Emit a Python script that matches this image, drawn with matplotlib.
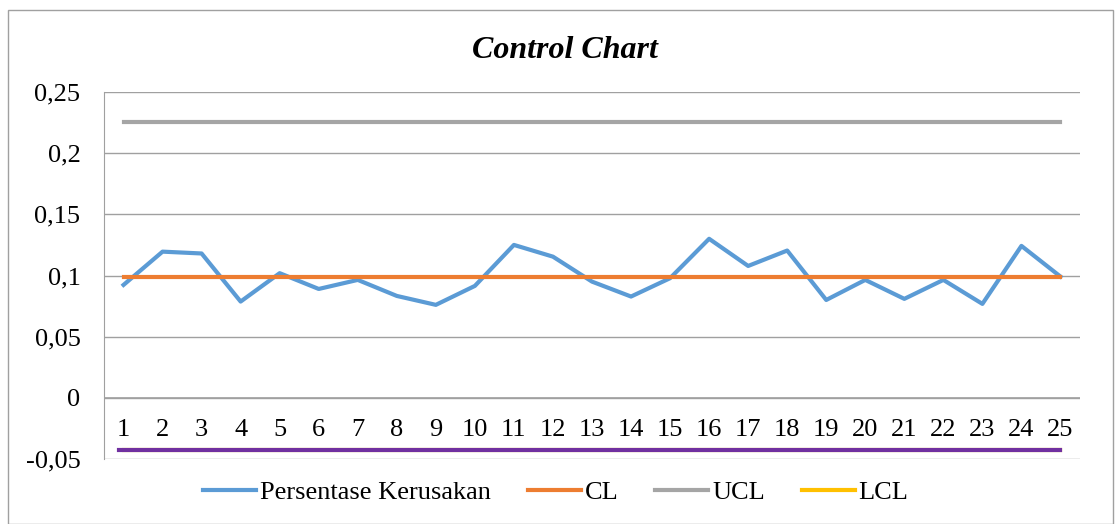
import matplotlib.pyplot as plt
from matplotlib.patches import Rectangle

plt.rcParams['font.family'] = ['Liberation Serif', 'DejaVu Serif']

# data
samples = list(range(1, 26))
persentase = [0.0923, 0.1195, 0.118, 0.0787, 0.1019, 0.089, 0.0964, 0.0833, 0.076, 0.0915,
              0.125, 0.1154, 0.095, 0.0828, 0.0978, 0.130, 0.1078, 0.1204, 0.080, 0.0964,
              0.0809, 0.0964, 0.0768, 0.1242, 0.0991]
cl_value = 0.0991
ucl_value = 0.2258
lcl_value = -0.0425
y_ticks = [-0.05, 0, 0.05, 0.1, 0.15, 0.2, 0.25]
y_labels = ['-0,05', '0', '0,05', '0,1', '0,15', '0,2', '0,25']

fig = plt.figure(figsize=(11.15, 5.24), dpi=100)
ax = fig.add_axes([104 / 1115, 1 - 459 / 524, 976 / 1115, 367 / 524])

n = len(samples)
x = list(range(n))
ax.plot(x, persentase, color='#5B9BD5', lw=3, label='Persentase Kerusakan', zorder=4)
ax.plot(x, [cl_value] * n, color='#ED7D31', lw=3, label='CL', zorder=5)
ax.plot(x, [ucl_value] * n, color='#A5A5A5', lw=3, label='UCL', zorder=3)
ax.plot(x, [lcl_value] * n, color='#FFC000', lw=3, label='LCL', zorder=3)
ax.plot([-0.12] + x[1:], [lcl_value] * n, color='#7030A0', lw=3, zorder=4)

ax.set_xlim(-0.5, n - 0.5)
ax.set_ylim(-0.05, 0.25)
ax.set_yticks(y_ticks)
ax.set_yticklabels(y_labels, fontsize=19)
ax.tick_params(axis='y', length=0, pad=17)
ax.set_xticks([])
ax.grid(axis='y', color='#A0A0A0', lw=1)
ax.axhline(0, color='#A0A0A0', lw=1.2, zorder=2)
for side in ['top', 'right', 'bottom']:
    ax.spines[side].set_visible(False)
ax.spines['left'].set_color('#A0A0A0')

for i, s in enumerate(samples):
    ax.text(i, -0.0265, str(s), ha='center', va='center', fontsize=19, zorder=1)

fig.text(565 / 1115, 1 - 51 / 524, 'Control Chart', ha='center', va='center',
         fontsize=23, fontweight='bold', fontstyle='italic')

fig.legend(loc='center', bbox_to_anchor=(556 / 1115, 1 - 492 / 524), ncol=4,
           frameon=False, fontsize=19, handlelength=2.0, handletextpad=0.15,
           columnspacing=1.4, borderpad=0)

fig.patches.append(Rectangle((8 / 1115, 0), 1105 / 1115, 1 - 10 / 524,
                             transform=fig.transFigure, fill=False,
                             edgecolor='#A0A0A0', lw=1))

fig.savefig('out.png', dpi=100)
